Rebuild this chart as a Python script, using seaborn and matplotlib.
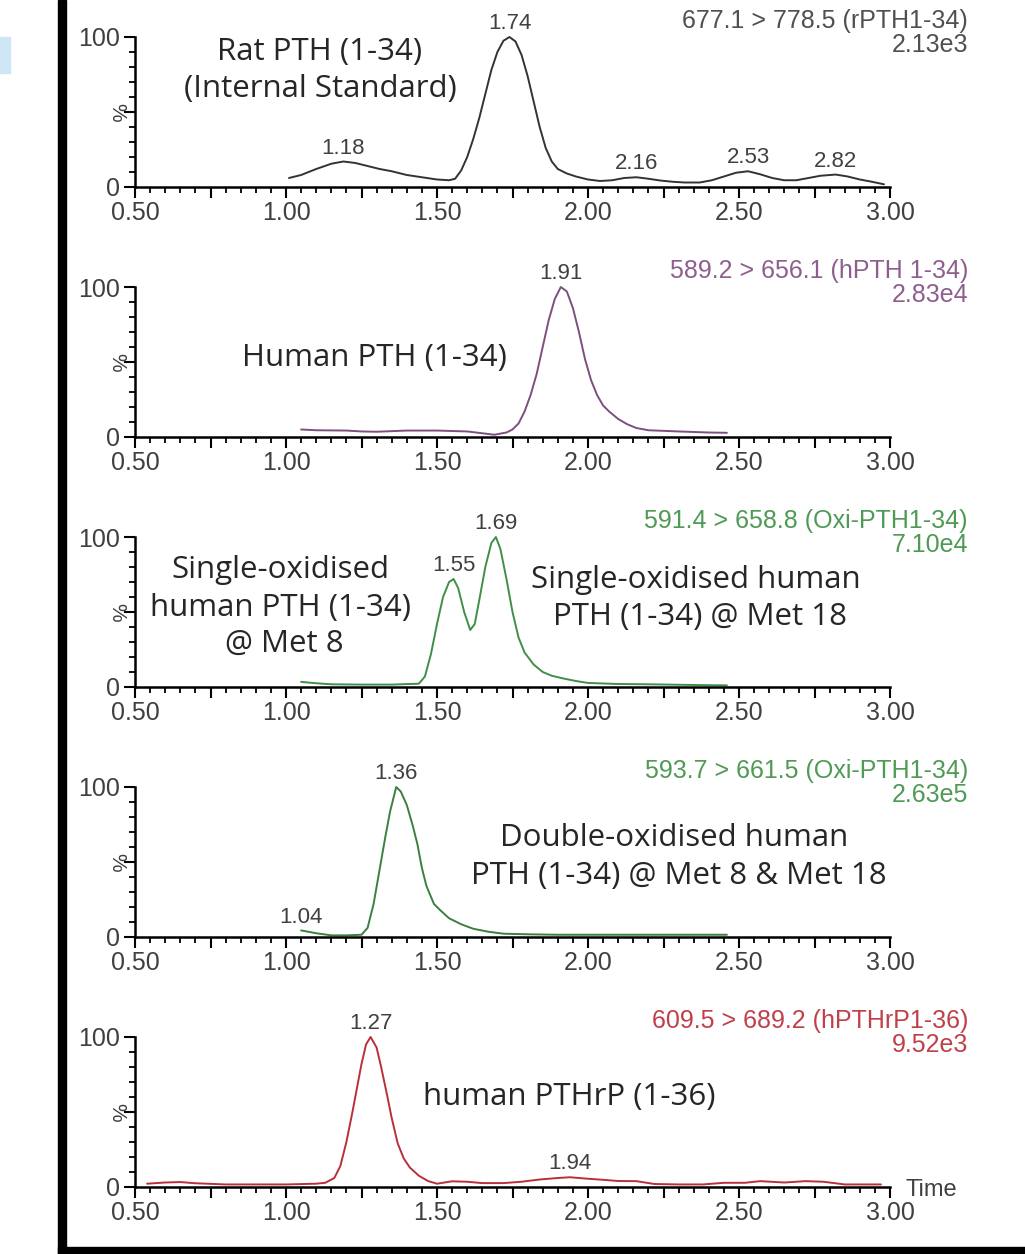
import numpy as np
import pandas as pd
import matplotlib
matplotlib.use("Agg")
import matplotlib.pyplot as plt
import seaborn as sns
from matplotlib.patches import Rectangle
from matplotlib.ticker import FixedLocator, MultipleLocator

# ---------------- data ----------------
# Panel 1: Rat PTH (1-34), internal standard
rat_t = [1.01, 1.05, 1.10, 1.15, 1.19, 1.23, 1.27, 1.31, 1.35, 1.40, 1.45, 1.50,
         1.54, 1.56, 1.58, 1.60, 1.62, 1.64, 1.66, 1.68, 1.70, 1.72, 1.74, 1.76,
         1.78, 1.80, 1.82, 1.84, 1.86, 1.88, 1.90, 1.93, 1.96, 2.00, 2.04, 2.08,
         2.12, 2.16, 2.20, 2.24, 2.28, 2.32, 2.37, 2.41, 2.45, 2.49, 2.53, 2.57,
         2.61, 2.65, 2.69, 2.73, 2.77, 2.82, 2.86, 2.90, 2.94, 2.98]
rat_v = [6, 8, 12, 15.5, 17, 16, 14, 12, 10.5, 8, 6.5, 5,
         4.5, 5.5, 11, 20, 32, 46, 62, 78, 90, 97.5, 100, 97,
         88, 74, 57, 40, 26, 17, 12, 9, 7, 5, 4, 4.5,
         6, 6.5, 5.5, 4.3, 3.5, 3, 3, 4.5, 7, 9.5, 10.5, 8.5,
         6, 4.5, 4.5, 6, 7.5, 8.3, 7, 5, 3.5, 1.8]

# Panel 2: Human PTH (1-34)
hpth_t = [1.05, 1.10, 1.20, 1.25, 1.30, 1.40, 1.50, 1.60, 1.65, 1.69, 1.73, 1.75,
          1.77, 1.79, 1.81, 1.83, 1.85, 1.87, 1.89, 1.91, 1.93, 1.95, 1.97, 1.99,
          2.01, 2.03, 2.05, 2.07, 2.10, 2.13, 2.16, 2.20, 2.30, 2.40, 2.46]
hpth_v = [5, 4.5, 4.3, 3.7, 3.5, 4.3, 4.3, 3.7, 2.5, 1.5, 3, 5,
          9, 17, 28, 42, 60, 78, 92, 100, 97, 86, 70, 52,
          38, 28, 21, 17, 12, 8.5, 6, 4.5, 3.7, 3, 2.8]

# Panel 3: single-oxidised human PTH (1-34)
ox1_t = [1.05, 1.10, 1.15, 1.25, 1.35, 1.44, 1.46, 1.48, 1.50, 1.52, 1.54, 1.555,
         1.57, 1.59, 1.61, 1.625, 1.64, 1.66, 1.68, 1.695, 1.71, 1.73, 1.75, 1.77,
         1.79, 1.82, 1.85, 1.88, 1.92, 1.96, 2.00, 2.10, 2.20, 2.30, 2.40, 2.46]
ox1_v = [3.4, 2.5, 1.8, 1.6, 1.6, 2.2, 7, 22, 42, 60, 70, 72,
         66, 50, 38, 42, 58, 80, 96, 100, 92, 72, 50, 33,
         23, 15, 10, 7.5, 5.6, 4, 2.7, 2, 1.8, 1.5, 1.2, 1.1]

# Panel 4: double-oxidised human PTH (1-34)
ox2_t = [1.05, 1.10, 1.15, 1.20, 1.25, 1.27, 1.29, 1.31, 1.33, 1.345, 1.365, 1.38,
         1.40, 1.42, 1.435, 1.45, 1.465, 1.49, 1.51, 1.54, 1.58, 1.62, 1.67, 1.72,
         1.80, 1.90, 2.10, 2.30, 2.46]
ox2_v = [4.4, 2.5, 1.1, 1.1, 1.5, 6, 22, 45, 68, 84, 100, 97,
         88, 74, 62, 46, 34, 22, 18, 12.5, 8.5, 5.5, 3.5, 2.2,
         1.8, 1.5, 1.5, 1.5, 1.5]

# Panel 5: human PTHrP (1-36)
pthrp_t = [0.54, 0.60, 0.65, 0.70, 0.80, 0.90, 1.00, 1.10, 1.13, 1.16, 1.18, 1.20,
           1.22, 1.235, 1.25, 1.265, 1.28, 1.30, 1.315, 1.335, 1.35, 1.37, 1.39, 1.41,
           1.44, 1.47, 1.50, 1.55, 1.60, 1.65, 1.72, 1.78, 1.84, 1.90, 1.94, 2.00,
           2.05, 2.10, 2.16, 2.22, 2.30, 2.38, 2.45, 2.52, 2.57, 2.65, 2.72, 2.78,
           2.85, 2.92, 2.97]
pthrp_v = [2.2, 3.0, 3.3, 2.5, 1.7, 1.7, 1.7, 2.2, 2.8, 6, 14, 30,
           50, 66, 82, 95, 100, 93, 80, 61, 46, 29, 19, 13,
           7.5, 4, 2.2, 3.8, 3.5, 2.6, 2.6, 3.5, 5, 6, 6.5, 5.5,
           4.8, 4, 3.9, 2, 1.7, 1.7, 2.8, 2.8, 3.9, 3, 3.9, 3.5,
           1.7, 1.7, 1.7]

# peak labels (position on the time axis, label text)
rat_peaks = [(1.19, "1.18"), (1.74, "1.74"), (2.16, "2.16"), (2.53, "2.53"), (2.82, "2.82")]
hpth_peaks = [(1.91, "1.91")]
ox1_peaks = [(1.555, "1.55"), (1.695, "1.69")]
ox2_peaks = [(1.05, "1.04"), (1.365, "1.36")]
pthrp_peaks = [(1.28, "1.27"), (1.94, "1.94")]

# channel info (top-right)
channels = ["677.1 > 778.5 (rPTH1-34)", "589.2 > 656.1 (hPTH 1-34)",
            "591.4 > 658.8 (Oxi-PTH1-34)", "593.7 > 661.5 (Oxi-PTH1-34)",
            "609.5 > 689.2 (hPTHrP1-36)"]
intensities = ["2.13e3", "2.83e4", "7.10e4", "2.63e5", "9.52e3"]

# annotation texts: (lines, x pixel centres, y pixel centres relative to panel)
annotations = [
    [(["Rat PTH (1-34)", "(Internal Standard)"], [320, 320], [52, 89])],
    [(["Human PTH (1-34)"], [374], [108])],
    [(["Single-oxidised", "human PTH (1-34)", "@ Met 8"], [280, 280, 284], [70, 108, 144]),
     (["Single-oxidised human", "PTH (1-34) @ Met 18"], [696, 700], [80, 117])],
    [(["Double-oxidised human", "PTH (1-34) @ Met 8 & Met 18"], [674, 679], [88, 126])],
    [(["human PTHrP (1-36)"], [569], [97])],
]

xtick_pos = [0.50, 0.75, 1.00, 1.25, 1.50, 1.75, 2.00, 2.25, 2.50, 2.75, 3.00]
xtick_lab = ["0.50", "", "1.00", "", "1.50", "", "2.00", "", "2.50", "", "3.00"]
ytick_pos = [0, 50, 100]
ytick_lab = ["0", "", "100"]

panels = [
    (rat_t, rat_v, rat_peaks, "#333333", "#505050"),
    (hpth_t, hpth_v, hpth_peaks, "#7d4f7d", "#8e5f8e"),
    (ox1_t, ox1_v, ox1_peaks, "#3f8f46", "#4f9a55"),
    (ox2_t, ox2_v, ox2_peaks, "#3a8040", "#4f9a55"),
    (pthrp_t, pthrp_v, pthrp_peaks, "#b8303c", "#c0404a"),
]

# ---------------- figure ----------------
sns.set_style("ticks")
plt.rcParams['font.family'] = ['Liberation Sans', 'DejaVu Sans']

W, H = 1025, 1254
fig = plt.figure(figsize=(W / 100, H / 100), dpi=100)
fig.patch.set_facecolor("white")

AX_L, AX_R = 135, 890
TOP0, PH, STEP = 37, 150, 250
ANN_FONT = ['Open Sans', 'DejaVu Sans']
tick_col = "#404040"

for i, (t, v, peaks, lc, tc) in enumerate(panels):
    top = TOP0 + STEP * i
    ax = fig.add_axes([AX_L / W, 1 - (top + PH) / H, (AX_R - AX_L) / W, PH / H])
    ax.set_facecolor("none")
    df = pd.DataFrame({"Time": t, "Intensity": v})
    sns.lineplot(data=df, x="Time", y="Intensity", ax=ax, color=lc,
                 linewidth=1.4, clip_on=False)
    ax.set_xlim(0.5, 3.0)
    ax.set_ylim(0, 100)
    ax.set_xlabel("")
    ax.set_ylabel("")
    for s in ["top", "right"]:
        ax.spines[s].set_visible(False)
    for s in ["left", "bottom"]:
        ax.spines[s].set_linewidth(1.8)
        ax.spines[s].set_color("black")
    ax.xaxis.set_major_locator(FixedLocator(xtick_pos))
    ax.set_xticklabels(xtick_lab)
    ax.xaxis.set_minor_locator(MultipleLocator(0.05))
    ax.yaxis.set_major_locator(FixedLocator(ytick_pos))
    ax.set_yticklabels(ytick_lab)
    ax.yaxis.set_minor_locator(MultipleLocator(10))
    ax.tick_params(axis="both", which="both", bottom=True, left=True,
                   top=False, right=False)
    ax.tick_params(axis="both", which="major", direction="out", length=8, width=1.5,
                   colors="black", labelcolor=tick_col, labelsize=18)
    ax.tick_params(axis="both", which="minor", direction="out", length=4.5, width=1.3,
                   colors="black")
    ax.tick_params(axis="x", which="major", pad=2)
    ax.tick_params(axis="y", which="major", pad=3)
    ax.text(-0.024, 50, "%", transform=ax.get_yaxis_transform(), rotation=-90,
            ha="center", va="center", fontsize=15, color=tick_col)

    # peak labels
    for pt, lab in peaks:
        idx = int(np.argmin(np.abs(np.array(t) - pt)))
        ax.annotate(lab, xy=(pt, v[idx]), xytext=(0, 2), textcoords="offset points",
                    ha="center", va="bottom", fontsize=16, color=tick_col,
                    annotation_clip=False)

    # channel text top-right
    xr = (968 - AX_L) / (AX_R - AX_L)
    ax.text(xr, (PH + 16) / PH, channels[i], transform=ax.transAxes,
            ha="right", va="center", fontsize=18, color=tc)
    ax.text(xr, (PH - 8) / PH, intensities[i], transform=ax.transAxes,
            ha="right", va="center", fontsize=18, color=tc)

    # annotation texts
    for lines, xs, ys in annotations[i]:
        for line, xp, yp in zip(lines, xs, ys):
            ax.text((xp - AX_L) / (AX_R - AX_L), (PH + TOP0 - yp) / PH, line,
                    transform=ax.transAxes, ha="center", va="center",
                    fontsize=22.5, color="#262626", family=ANN_FONT)

    if i == len(panels) - 1:
        ax.text((905 - AX_L) / (AX_R - AX_L), -0.02, "Time", transform=ax.transAxes,
                ha="left", va="center", fontsize=17, color=tick_col)

# black frame (left and bottom) and small blue mark at top-left
fig.add_artist(Rectangle((58 / W, 0), 8 / W, 1, transform=fig.transFigure,
                         color="black", zorder=10))
fig.add_artist(Rectangle((58 / W, 0), 1 - 58 / W, 7 / H, transform=fig.transFigure,
                         color="black", zorder=10))
fig.add_artist(Rectangle((0, 1 - 73 / H), 10 / W, 36 / H, transform=fig.transFigure,
                         color="#cfe6f7", zorder=10))

fig.savefig("out.png", dpi=100, facecolor="white")
